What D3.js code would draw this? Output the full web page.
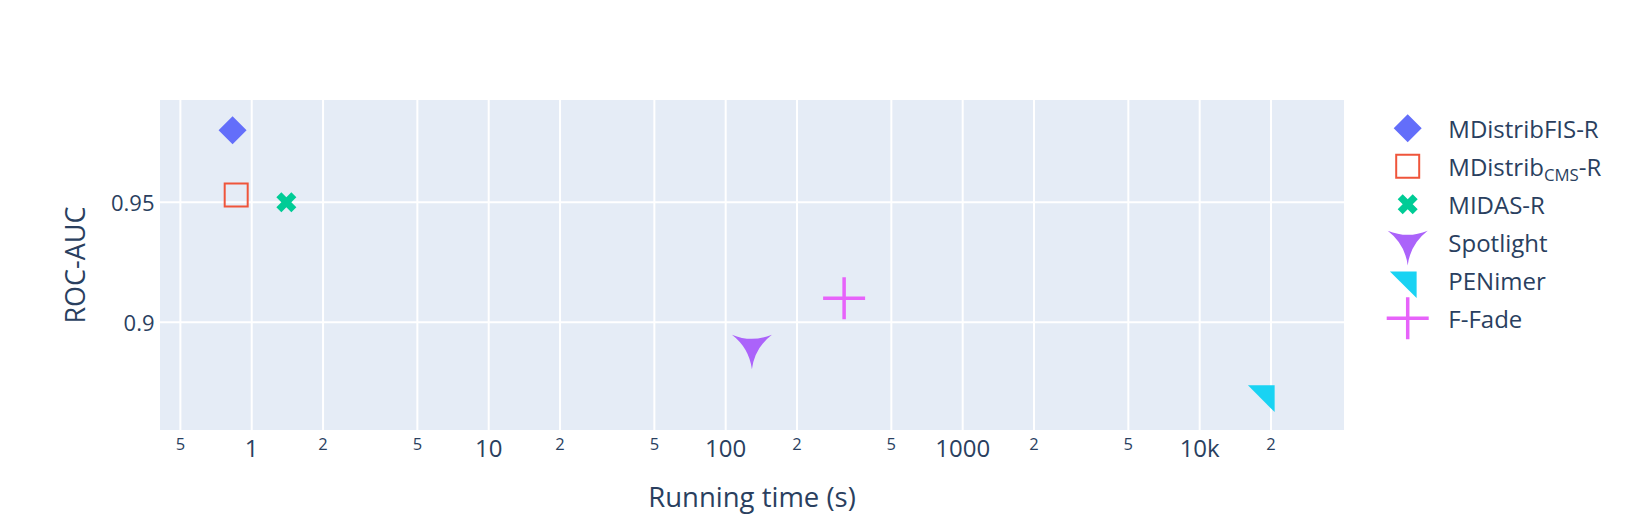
<!DOCTYPE html>
<html>
<head>
<meta charset="utf-8">
<script src="https://cdn.jsdelivr.net/npm/d3@7/dist/d3.min.js"></script>
<style>
  html, body { margin: 0; padding: 0; background: #fff; }
  svg { display: block; }
  text { font-family: "Open Sans", "DejaVu Sans", Arial, sans-serif; fill: #2a3f5f; }
</style>
</head>
<body>
<svg id="chart" width="1638" height="516"></svg>
<script>
// ---- data ----
const seriesNames = ["MDistribFIS-R", "MDistribCMS-R", "MIDAS-R", "Spotlight", "PENimer", "F-Fade"];
const runningTime = [0.83, 0.86, 1.4, 129, 19000, 316];
const rocAuc = [0.980, 0.953, 0.950, 0.890, 0.870, 0.910];
const seriesColors = ["#636efa", "#EF553B", "#00cc96", "#ab63fa", "#19d3f3", "#e763fa"];
const seriesSymbols = ["diamond", "square-open", "x", "star-triangle-down", "triangle-ne", "cross-thin"];
const xTickValues = [0.5, 1, 2, 5, 10, 20, 50, 100, 200, 500, 1000, 2000, 5000, 10000, 20000];
const xTickLabels = ["5", "1", "2", "5", "10", "2", "5", "100", "2", "5", "1000", "2", "5", "10k", "2"];
const yTickValues = [0.9, 0.95];
const yTickLabels = ["0.9", "0.95"];

// ---- layout ----
const W = 1638, H = 516;
const plot = { left: 160, right: 1344, top: 100, bottom: 430 };
const svg = d3.select("#chart");

const x = d3.scaleLog().domain([Math.pow(10, -0.387), Math.pow(10, 4.609)]).range([plot.left, plot.right]);
const y = d3.scaleLinear().domain([0.8551, 0.9926]).range([plot.bottom, plot.top]);

svg.append("rect").attr("x", plot.left).attr("y", plot.top)
  .attr("width", plot.right - plot.left).attr("height", plot.bottom - plot.top)
  .attr("fill", "#E5ECF6");

// grid
const grid = svg.append("g");
grid.selectAll("line.vx").data(xTickValues).enter().append("line")
  .attr("x1", d => x(d)).attr("x2", d => x(d))
  .attr("y1", plot.top).attr("y2", plot.bottom)
  .attr("stroke", "#fff").attr("stroke-width", 2);
grid.selectAll("line.hy").data(yTickValues).enter().append("line")
  .attr("y1", d => y(d)).attr("y2", d => y(d))
  .attr("x1", plot.left).attr("x2", plot.right)
  .attr("stroke", "#fff").attr("stroke-width", 2);

// x tick labels
const isMajor = l => !(l === "2" || l === "5");
svg.append("g").selectAll("text").data(xTickValues).enter().append("text")
  .attr("x", d => x(d))
  .attr("y", (d, i) => isMajor(xTickLabels[i]) ? 456.7 : 450)
  .attr("text-anchor", "middle")
  .style("font-size", (d, i) => isMajor(xTickLabels[i]) ? "24px" : "16.5px")
  .text((d, i) => xTickLabels[i]);

// y tick labels
svg.append("g").selectAll("text").data(yTickValues).enter().append("text")
  .attr("x", 154.5).attr("y", d => y(d) + 9)
  .attr("text-anchor", "end")
  .style("font-size", "22px")
  .text((d, i) => yTickLabels[i]);

// axis titles
svg.append("text").attr("x", (plot.left + plot.right) / 2).attr("y", 506.5)
  .attr("text-anchor", "middle").style("font-size", "27.5px").text("Running time (s)");
svg.append("text").attr("transform", `translate(85,${(plot.top + plot.bottom) / 2}) rotate(-90)`)
  .attr("text-anchor", "middle").style("font-size", "27px").text("ROC-AUC");

// ---- symbols ----
function symbolPath(type) {
  switch (type) {
    case "diamond": { const r = 14; return `M${-r},0L0,${-r}L${r},0L0,${r}Z`; }
    case "square-open": { const r = 11.5; return `M${r},${r}H${-r}V${-r}H${r}Z`; }
    case "x": {
      const rx = 5;
      const ne = `l${rx},${-rx}`, se = `l${rx},${rx}`, sw = `l${-rx},${rx}`, nw = `l${-rx},${-rx}`;
      return `M0,${-rx}` + ne + se + sw + se + sw + nw + sw + nw + ne + nw + ne + "Z";
    }
    case "star-triangle-down": {
      const hx = 20, y1 = 11.6, y2 = 23.1, rc = 52;
      const a = `A${rc},${rc} 0 0 1 `;
      return `M${hx},${-y1}` + a + `${-hx},${-y1}` + a + `0,${y2}` + a + `${hx},${-y1}Z`;
    }
    case "triangle-ne": { const r1 = 8.9, r2 = 17.8; return `M${-r2},${-r1}H${r1}V${r2}Z`; }
    case "cross-thin": { const r = 21; return `M0,${-r}V${r}M${-r},0H${r}`; }
  }
}
function styleSymbol(sel, i) {
  const t = seriesSymbols[i], c = seriesColors[i];
  if (t === "square-open") sel.attr("fill", "none").attr("stroke", c).attr("stroke-width", 2);
  else if (t === "cross-thin") sel.attr("fill", "none").attr("stroke", c).attr("stroke-width", 3.5);
  else sel.attr("fill", c).attr("stroke", "none");
}

// points
const pts = svg.append("g");
seriesNames.forEach((n, i) => {
  const p = pts.append("path")
    .attr("d", symbolPath(seriesSymbols[i]))
    .attr("transform", `translate(${x(runningTime[i])},${y(rocAuc[i])})`);
  styleSymbol(p, i);
});

// legend
const legend = svg.append("g");
const legendX = 1407.7, legendY0 = 128.3, legendStep = 38;
seriesNames.forEach((n, i) => {
  const cy = legendY0 + i * legendStep;
  const p = legend.append("path").attr("d", symbolPath(seriesSymbols[i]))
    .attr("transform", `translate(${legendX},${cy})`);
  styleSymbol(p, i);
  const t = legend.append("text").attr("x", 1448.3).attr("y", cy + 10).style("font-size", "24px");
  if (n === "MDistribCMS-R") {
    t.append("tspan").text("MDistrib");
    t.append("tspan").attr("dy", "5").style("font-size", "16.8px").text("CMS");
    t.append("tspan").attr("dy", "-5").text("-R");
  } else {
    t.text(n);
  }
});
</script>
</body>
</html>
